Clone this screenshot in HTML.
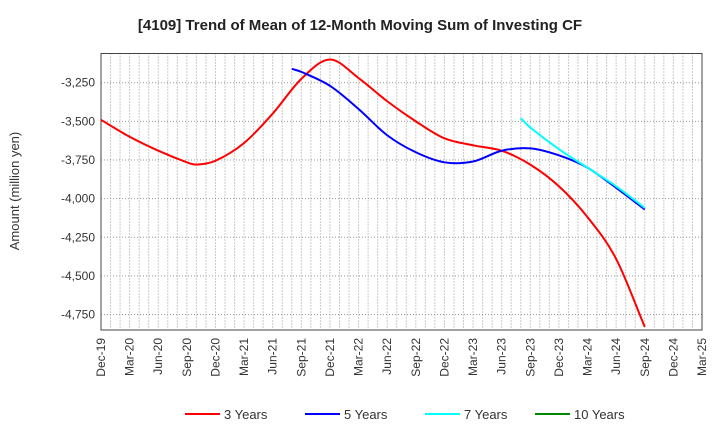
<!DOCTYPE html>
<html><head><meta charset="utf-8"><style>
body{margin:0;background:#fff;font-family:"Liberation Sans",sans-serif}
</style></head><body>
<svg id="chart" width="720" height="440" xmlns="http://www.w3.org/2000/svg" font-family="Liberation Sans, sans-serif">
<text x="360" y="30" text-anchor="middle" font-size="15" font-weight="bold" fill="#222">[4109]  Trend of Mean of 12-Month Moving Sum of Investing CF</text>
<text transform="translate(19,191) rotate(-90)" text-anchor="middle" font-size="13" fill="#333">Amount (million yen)</text>
<g id="grid"></g><g id="axes"></g><g id="series"></g>
<g font-size="13" fill="#333">
<line x1="185" y1="414" x2="220" y2="414" stroke="#f00" stroke-width="2"/><text x="224" y="419">3 Years</text>
<line x1="305" y1="414" x2="340" y2="414" stroke="#00f" stroke-width="2"/><text x="344" y="419">5 Years</text>
<line x1="425" y1="414" x2="460" y2="414" stroke="#0ff" stroke-width="2"/><text x="464" y="419">7 Years</text>
<line x1="535" y1="414" x2="570" y2="414" stroke="#080" stroke-width="2"/><text x="574" y="419">10 Years</text>
</g>
</svg>
<script>
const xLabels=["Dec-19","Mar-20","Jun-20","Sep-20","Dec-20","Mar-21","Jun-21","Sep-21","Dec-21","Mar-22","Jun-22","Sep-22","Dec-22","Mar-23","Jun-23","Sep-23","Dec-23","Mar-24","Jun-24","Sep-24","Dec-24","Mar-25"];
const yTicks=[-3250,-3500,-3750,-4000,-4250,-4500,-4750];
// month index from Dec-19
const m3=[0,3,6,9,10,12,15,18,21,24,27,30,33,36,39,42,45,48,51,54,57];
const v3=[-3490,-3600,-3690,-3765,-3780,-3755,-3640,-3450,-3225,-3100,-3220,-3370,-3500,-3610,-3655,-3690,-3780,-3920,-4120,-4390,-4830];
const m5=[20,21,24,27,30,33,36,39,42,45,48,51,54,57];
const v5=[-3160,-3180,-3270,-3420,-3590,-3700,-3765,-3760,-3690,-3675,-3720,-3800,-3930,-4070];
const m7=[44,45,48,51,54,57];
const v7=[-3480,-3540,-3680,-3800,-3920,-4060];
const X0=101,X1=702,Y0=53.5,Y1=330,YMAX=-3061,YMIN=-4850,NM=63;
const sx=m=>X0+(X1-X0)*m/NM, sy=v=>Y0+(Y1-Y0)*(YMAX-v)/(YMAX-YMIN);
const NS="http://www.w3.org/2000/svg";
const mk=(t,a,p)=>{const e=document.createElementNS(NS,t);for(const k in a)e.setAttribute(k,a[k]);p.appendChild(e);return e;};
const grid=document.getElementById('grid'),axes=document.getElementById('axes'),ser=document.getElementById('series');
for(let m=1;m<NM;m++){const l=mk('line',{x1:sx(m),x2:sx(m),y1:Y0,y2:Y1,stroke:'#999','stroke-dasharray':'1,2','stroke-width':1},grid);

}
yTicks.forEach(v=>{const y=sy(v);const l=mk('line',{x1:X0,x2:X1,y1:y,y2:y,stroke:'#999','stroke-dasharray':'1,2'},grid);


const t=mk('text',{x:X0-6,y:y+4,'text-anchor':'end','font-size':12,fill:'#333'},axes);t.textContent=v.toLocaleString('en-US');

});
xLabels.forEach((s,i)=>{const x=sx(i*3);const t=mk('text',{transform:`translate(${x+4},${Y1+8}) rotate(-90)`,'text-anchor':'end','font-size':12,fill:'#333'},axes);t.textContent=s;

});
const fr=mk('rect',{x:X0,y:Y0,width:X1-X0,height:Y1-Y0,fill:'none',stroke:'#444','stroke-width':1},axes);


function path(ms,vs,c,name){const p=ms.map((m,i)=>[sx(m),sy(vs[i])]);const n=p.length;
const sl=p.map((q,i)=>{const a=p[Math.max(i-1,0)],b=p[Math.min(i+1,n-1)];return (b[1]-a[1])/(b[0]-a[0]);});
let d=`M${p[0][0]},${p[0][1]}`;
for(let i=0;i<n-1;i++){const b=p[i],e=p[i+1],h=(e[0]-b[0])/3;
d+=` C${b[0]+h},${b[1]+sl[i]*h} ${e[0]-h},${e[1]-sl[i+1]*h} ${e[0]},${e[1]}`;}
const el=mk('path',{d,fill:'none',stroke:c,'stroke-width':2},ser);

}
path(m3,v3,'#f00','series-3-years');
path(m5,v5,'#00f','series-5-years');
path(m7,v7,'#0ff','series-7-years');
</script>
</body></html>
